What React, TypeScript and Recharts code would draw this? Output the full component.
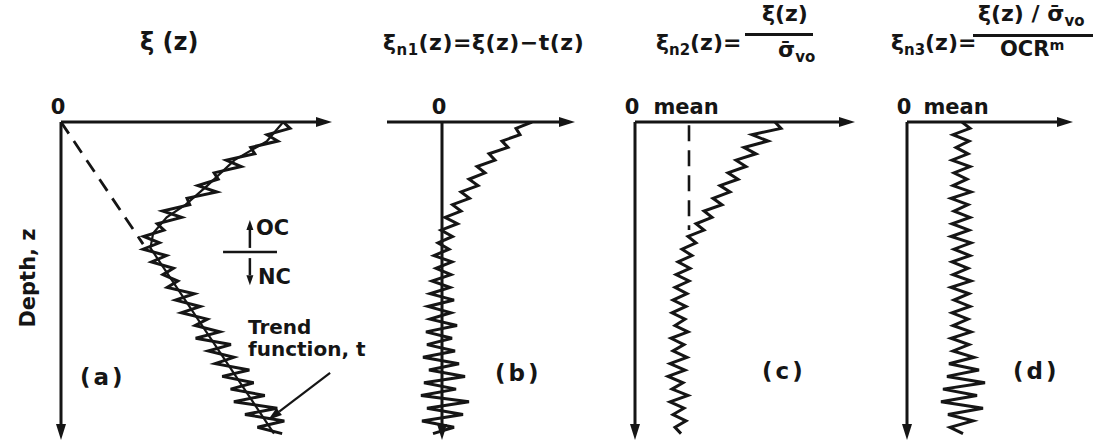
import React from "react";
import { ScatterChart, Scatter, XAxis, YAxis, ReferenceLine } from "recharts";

// depth grid shared by all four profiles (0 = ground surface)
const DEPTH = [
  0, 2, 4, 6, 8, 10, 12, 14, 16, 18, 20, 22, 24, 26, 28, 30, 32, 34, 36, 38,
  40, 42, 44, 46, 48, 50, 52, 54, 56, 58, 60, 62, 64, 66, 68, 70, 72, 74, 76, 78,
  80, 82, 84, 86, 88, 90, 92, 94, 96, 98,
];

// (a) raw soil property xi(z)
const XI = [
  82, 84.5, 76, 80, 70, 71.5, 61, 66.5, 56.5, 58, 50.5, 57.5, 46.5, 47.5, 37.5, 44.5, 35.5, 38, 30.5, 36.3,
  30.3, 38.9, 33.4, 41.5, 37.6, 43.1, 39.2, 49.2, 42.3, 51.4, 44.4, 54, 49.5, 58.6, 49.7, 62.7, 54.3, 63.8, 56.9, 69.5,
  59.5, 71.1, 62.6, 75.2, 63.8, 79.8, 67.9, 82.4, 72.5, 81.6,
];

// trend function t(z) through the raw profile
const TREND_DEPTH = [0, 6, 12, 20, 26, 30, 35, 39.6, 98];
const TREND = [82, 76, 64, 54, 46, 39, 34, 33, 78.6];

// OC / NC boundary and the extrapolated NC line
const OC_NC_DEPTH = 39.6;
const NC_LINE_END = { v: 30.3, d: 38.4 };

// (b) xi - t
const XI_N1 = [
  90, 74, 78, 60, 66, 47, 53, 35, 43, 27, 36, 19, 27.5, 10.5, 19, 3, 15.5, -1, 10.5, -4,
  7, -8, 10, -6, 9, -10, 8, -12, 12, -14, 9, -12, 15, -16, 10, -15, 13, -19, 17, -13,
  23, -18, 14, -21, 27, -15, 21, -20, 12, -9,
];

// (c) xi / sigma'vo
const XI_N2 = [
  140, 146, 117, 133, 109, 121, 101, 111, 93, 103, 85, 95, 78, 87, 69, 77, 61, 69, 53, 61,
  47, 57, 43, 55, 41, 54, 40, 52, 38, 51, 37, 50, 40, 53, 36, 49, 38, 52, 35, 50,
  33, 48, 37, 53, 35, 49, 38, 51, 40, 46,
];
const MEAN_N2 = 54;
const MEAN_N2_DEPTH = 34;

// (d) (xi / sigma'vo) / OCR^m
const XI_N3 = [
  55, 63, 46, 62, 49, 61, 45, 63, 47, 60, 46, 64, 44, 61, 47, 63, 45, 62, 44, 64,
  47, 63, 45, 61, 46, 64, 44, 62, 47, 63, 45, 61, 46, 64, 44, 62, 46, 67, 42, 72,
  40, 78, 36, 70, 34, 76, 41, 66, 43, 56,
];
const MEAN_N3 = 52;

const INK = "#151515";
const FONT = "'DejaVu Sans', 'Open Sans', sans-serif";
const CHART_TOP = 82;
const CHART_H = 360;
const DEPTH_MAX = 100;

const rows = (vals: number[], depths: number[] = DEPTH) =>
  vals.map((v, i) => ({ v, d: depths[i] }));

// reference line drawn with an arrowhead at its end point
const arrow = (len: number, half: number) => (p: any) => {
  const { x1, y1, x2, y2, strokeWidth } = p;
  const a = Math.atan2(y2 - y1, x2 - x1);
  const bx = x2 - len * Math.cos(a);
  const by = y2 - len * Math.sin(a);
  const px = -Math.sin(a) * half;
  const py = Math.cos(a) * half;
  return (
    <g>
      <line x1={x1} y1={y1} x2={bx} y2={by} stroke={INK} strokeWidth={strokeWidth} />
      <polygon points={`${x2},${y2} ${bx + px},${by + py} ${bx - px},${by - py}`} fill={INK} />
    </g>
  );
};

const noDot = () => <g />;

function axes(xMin: number, xMax: number) {
  return [
    <ReferenceLine
      key="hx"
      segment={[{ x: xMin, y: 0 }, { x: xMax, y: 0 }]}
      stroke={INK}
      strokeWidth={3}
      ifOverflow="visible"
      shape={arrow(16, 5)}
    />,
    <ReferenceLine
      key="vx"
      segment={[{ x: 0, y: 0 }, { x: 0, y: DEPTH_MAX }]}
      stroke={INK}
      strokeWidth={3}
      ifOverflow="visible"
      shape={arrow(16, 5)}
    />,
  ];
}

function profile(data: { v: number; d: number }[], width = 3, key = "p") {
  return (
    <Scatter
      key={key}
      data={data}
      shape={noDot}
      fill={INK}
      line={{ stroke: INK, strokeWidth: width, strokeLinejoin: "miter" }}
      lineType="joint"
      isAnimationActive={false}
    />
  );
}

function PanelChart(props: {
  left: number;
  width: number;
  marginLeft: number;
  domain: [number, number];
  ticks: number[];
  names: string[];
  children: React.ReactNode;
}) {
  const { left, width, marginLeft, domain, ticks, names, children } = props;
  return (
    <div style={{ position: "absolute", left, top: CHART_TOP }}>
      <ScatterChart
        width={width}
        height={CHART_H}
        margin={{ top: 0, right: 10, bottom: 2, left: marginLeft }}
      >
        <XAxis
          type="number"
          dataKey="v"
          domain={domain}
          orientation="top"
          height={40}
          ticks={ticks}
          interval={0}
          tickFormatter={(t: number) => names[ticks.indexOf(t)] ?? ""}
          axisLine={false}
          tickLine={false}
          tickMargin={2}
          allowDataOverflow
          tick={{ fontSize: 21, fontWeight: 700, fill: INK, fontFamily: FONT, dx: -3 }}
        />
        <YAxis type="number" dataKey="d" domain={[0, DEPTH_MAX]} reversed hide allowDataOverflow />
        {children}
      </ScatterChart>
    </div>
  );
}

const txt = (left: number, top: number, size = 22): React.CSSProperties => ({
  position: "absolute",
  left,
  top,
  fontSize: size,
  fontWeight: 700,
  fontFamily: FONT,
  color: INK,
  whiteSpace: "nowrap",
  lineHeight: 1.15,
});

const Sub = ({ children }: { children: React.ReactNode }) => (
  <span style={{ fontSize: "0.68em", position: "relative", top: "0.35em" }}>{children}</span>
);
const Sup = ({ children }: { children: React.ReactNode }) => (
  <span style={{ fontSize: "0.68em", position: "relative", top: "-0.45em" }}>{children}</span>
);

export default function App() {
  return (
    <div
      style={{
        position: "fixed",
        left: 0,
        top: 0,
        width: 1094,
        height: 442,
        background: "#ffffff",
        overflow: "hidden",
      }}
    >
      {/* (a) raw profile with trend function */}
      <PanelChart left={0} width={342} marginLeft={61} domain={[0, 100]} ticks={[0]} names={["0"]}>
        {axes(0, 100)}
        <ReferenceLine
          segment={[{ x: 0, y: 0 }, { x: NC_LINE_END.v, y: NC_LINE_END.d }]}
          stroke={INK}
          strokeWidth={2.8}
          strokeDasharray="14 9"
          ifOverflow="visible"
        />
        {profile(rows(TREND, TREND_DEPTH), 2.2, "trend")}
        {profile(rows(XI), 3, "xi")}
        <ReferenceLine
          segment={[{ x: 59.8, y: OC_NC_DEPTH + 1.3 }, { x: 79.7, y: OC_NC_DEPTH + 1.3 }]}
          stroke={INK}
          strokeWidth={2.5}
          ifOverflow="visible"
        />
        <ReferenceLine
          segment={[{ x: 69.7, y: OC_NC_DEPTH }, { x: 69.7, y: 30.8 }]}
          stroke={INK}
          strokeWidth={2.5}
          ifOverflow="visible"
          shape={arrow(10, 3.5)}
        />
        <ReferenceLine
          segment={[{ x: 69.7, y: 42.8 }, { x: 69.7, y: 51.3 }]}
          stroke={INK}
          strokeWidth={2.5}
          ifOverflow="visible"
          shape={arrow(10, 3.5)}
        />
        <ReferenceLine
          segment={[{ x: 99.3, y: 78.9 }, { x: 76.4, y: 93.7 }]}
          stroke={INK}
          strokeWidth={2.2}
          ifOverflow="visible"
          shape={arrow(14, 4.5)}
        />
      </PanelChart>

      {/* (b) detrended */}
      <PanelChart left={377} width={208} marginLeft={10} domain={[-55, 133]} ticks={[0]} names={["0"]}>
        {axes(-55, 133)}
        {profile(rows(XI_N1), 3, "n1")}
      </PanelChart>

      {/* (c) normalised by effective overburden stress */}
      <PanelChart
        left={625}
        width={240}
        marginLeft={10}
        domain={[0, 220]}
        ticks={[0, MEAN_N2]}
        names={["0", "mean"]}
      >
        {axes(0, 220)}
        <ReferenceLine
          segment={[{ x: MEAN_N2, y: 1 }, { x: MEAN_N2, y: MEAN_N2_DEPTH }]}
          stroke={INK}
          strokeWidth={2.6}
          strokeDasharray="16 9"
          ifOverflow="visible"
        />
        {profile(rows(XI_N2), 3, "n2")}
      </PanelChart>

      {/* (d) normalised by stress and OCR */}
      <PanelChart
        left={897}
        width={186}
        marginLeft={10}
        domain={[0, 166]}
        ticks={[0, MEAN_N3]}
        names={["0", "mean"]}
      >
        {axes(0, 166)}
        {profile(rows(XI_N3), 3, "n3")}
      </PanelChart>

      {/* titles */}
      <div style={txt(140, 29, 24)}>ξ (z)</div>
      <div style={{ ...txt(383, 30, 22), letterSpacing: 0.5 }}>
        ξ<Sub>n1</Sub>(z)=ξ(z)−t(z)
      </div>

      <div style={txt(656, 30, 22)}>
        ξ<Sub>n2</Sub>(z)=
      </div>
      <div style={{ ...txt(762, 1, 22) }}>ξ(z)</div>
      <div style={{ position: "absolute", left: 745, top: 33, width: 68, height: 3, background: INK }} />
      <div style={txt(778, 37, 22)}>
        σ̄<Sub>vo</Sub>
      </div>

      <div style={txt(891, 30, 22)}>
        ξ<Sub>n3</Sub>(z)=
      </div>
      <div style={txt(978, 1, 22)}>
        ξ(z) / σ̄<Sub>vo</Sub>
      </div>
      <div style={{ position: "absolute", left: 973, top: 34, width: 120, height: 3, background: INK }} />
      <div style={txt(1000, 37, 21)}>
        OCR<Sup>m</Sup>
      </div>

      {/* axis name and annotations */}
      <div
        style={{
          ...txt(28, 278, 21),
          transform: "translate(-50%, -50%) rotate(-90deg)",
        }}
      >
        Depth, z
      </div>
      <div style={txt(256, 216, 21)}>OC</div>
      <div style={txt(258, 265, 21)}>NC</div>
      <div style={{ ...txt(248, 316, 20), lineHeight: "22px" }}>
        Trend
        <br />
        function, t
      </div>

      <div style={{ ...txt(80, 364, 23), letterSpacing: 3 }}>(a)</div>
      <div style={{ ...txt(495, 360, 23), letterSpacing: 3 }}>(b)</div>
      <div style={{ ...txt(762, 358, 23), letterSpacing: 3 }}>(c)</div>
      <div style={{ ...txt(1013, 358, 23), letterSpacing: 3 }}>(d)</div>
    </div>
  );
}
